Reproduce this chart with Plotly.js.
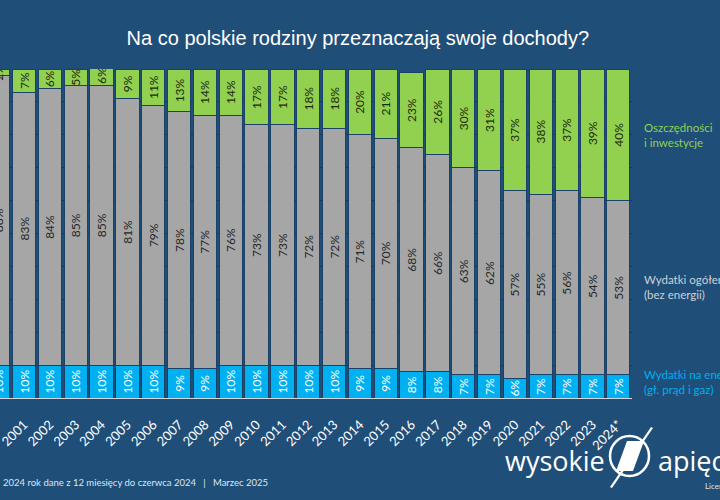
<!DOCTYPE html>
<html>
<head>
<meta charset="utf-8">
<script src="https://cdn.plot.ly/plotly-3.0.1.min.js"></script>
<style>
  html, body { margin: 0; padding: 0; background: #1f4e79; }
  #chart { width: 720px; height: 500px; }
</style>
</head>
<body>
<div id="chart"></div>
<script>
// Share of household income, Poland, by year (percent)
const years = ['2000','2001','2002','2003','2004','2005','2006','2007','2008','2009',
               '2010','2011','2012','2013','2014','2015','2016','2017','2018','2019',
               '2020','2021','2022','2023','2024*'];
const energy  = [10,10,10,10,10,10,10, 9, 9,10,10,10,10,10, 9, 9, 8, 8, 7, 7, 6, 7, 7, 7, 7];
const general = [88,83,84,85,85,81,79,78,77,76,73,73,72,72,71,70,68,66,63,62,57,55,56,54,53];
const savings = [ 2, 7, 6, 5, 6, 9,11,13,14,14,17,17,18,18,20,21,23,26,30,31,37,38,37,39,40];

const seriesNames = ['Wydatki na energię', 'Wydatki ogółem', 'Oszczędności i inwestycje'];

const BG = '#1f4e79';
const C_ENERGY = '#00b0f0';
const C_GENERAL = '#a6a6a6';
const C_SAVINGS = '#92d050';

// plot area in pixels (for placing labels around it)
const PL = 0, PR = 632, PT = 69, PB = 398;
const px = x => (x - PL) / (PR - PL);
const py = y => (PB - y) / (PB - PT);

const pct = arr => arr.map(v => v + '%');

function barTrace(name, values, color, textColor) {
  return {
    type: 'bar',
    name: name,
    x: years,
    y: values,
    text: pct(values),
    textposition: 'inside',
    insidetextanchor: 'middle',
    textangle: -90,
    constraintext: 'none',
    textfont: { family: 'Lato, sans-serif', size: 12, color: textColor },
    marker: { color: color, line: { color: '#1a4269', width: 1 } },
    hoverinfo: 'skip'
  };
}

const data = [
  barTrace(seriesNames[0], energy, C_ENERGY, '#ffffff'),
  barTrace(seriesNames[1], general, C_GENERAL, '#262626'),
  barTrace(seriesNames[2], savings, C_SAVINGS, '#1e2a10')
];

// lightning bolt of the logo, pixel outline converted to paper units
function pathFrom(points) {
  return points.map((p, i) => (i ? 'L' : 'M') + px(p[0]).toFixed(4) + ',' + py(p[1]).toFixed(4)).join(' ') + ' Z';
}

const layout = {
  width: 720,
  height: 500,
  margin: { l: PL, r: 720 - PR, t: PT, b: 500 - PB },
  paper_bgcolor: BG,
  plot_bgcolor: BG,
  barmode: 'stack',
  bargap: 0.1,
  showlegend: false,
  title: {
    text: 'Na co polskie rodziny przeznaczają swoje dochody?',
    font: { family: 'Liberation Sans, Arial, sans-serif', size: 20, color: '#ffffff' },
    x: 0.497, xref: 'container', xanchor: 'center',
    y: 1 - 38 / 500, yref: 'container', yanchor: 'middle'
  },
  xaxis: {
    type: 'category',
    range: [0.07, 24.53],
    tickangle: -45,
    tickfont: { family: 'Lato, sans-serif', size: 13, color: '#ffffff' },
    ticklabelstandoff: 13,
    showline: true,
    linecolor: '#d0d8e2',
    linewidth: 1,
    ticks: '',
    showgrid: false,
    fixedrange: true
  },
  yaxis: {
    range: [0, 100],
    dtick: 10,
    showgrid: true,
    gridcolor: '#163a5e',
    gridwidth: 1,
    showticklabels: false,
    zeroline: false,
    fixedrange: true
  },
  annotations: [
    { text: 'Oszczędności<br>i inwestycje', x: px(642), y: py(135), xref: 'paper', yref: 'paper',
      xanchor: 'left', yanchor: 'middle', align: 'left', showarrow: false,
      font: { family: 'Lato, sans-serif', size: 11.5, color: C_SAVINGS } },
    { text: 'Wydatki ogółem<br>(bez energii)', x: px(642), y: py(287), xref: 'paper', yref: 'paper',
      xanchor: 'left', yanchor: 'middle', align: 'left', showarrow: false,
      font: { family: 'Lato, sans-serif', size: 11.5, color: '#cdd1d6' } },
    { text: 'Wydatki na energię<br>(gł. prąd i gaz)', x: px(642), y: py(382), xref: 'paper', yref: 'paper',
      xanchor: 'left', yanchor: 'middle', align: 'left', showarrow: false,
      font: { family: 'Lato, sans-serif', size: 11.5, color: C_ENERGY } },
    { text: '2024 rok dane z 12 miesięcy do czerwca 2024   |   Marzec 2025', x: px(1), y: py(482),
      xref: 'paper', yref: 'paper', xanchor: 'left', yanchor: 'middle', showarrow: false,
      font: { family: 'Lato, sans-serif', size: 9.5, color: '#dce6f0' } },
    { text: 'wysokie', x: px(607), y: py(460), xref: 'paper', yref: 'paper',
      xanchor: 'right', yanchor: 'middle', showarrow: false,
      font: { family: 'Open Sans, sans-serif', size: 27, color: '#ffffff' } },
    { text: 'apięcie', x: px(656), y: py(460), xref: 'paper', yref: 'paper',
      xanchor: 'left', yanchor: 'middle', showarrow: false,
      font: { family: 'Open Sans, sans-serif', size: 27, color: '#ffffff' } },
    { text: 'Licencja CC BY-SA', x: px(703), y: py(486), xref: 'paper', yref: 'paper',
      xanchor: 'left', yanchor: 'middle', showarrow: false,
      font: { family: 'Lato, sans-serif', size: 8, color: '#dce6f0' } }
  ],
  shapes: [
    { type: 'circle', xref: 'paper', yref: 'paper',
      x0: px(610), x1: px(649), y0: py(476), y1: py(436),
      line: { color: '#ffffff', width: 2.5 }, fillcolor: 'rgba(0,0,0,0)' },
    { type: 'path', xref: 'paper', yref: 'paper',
      path: pathFrom([[627,441],[644,441],[633,471],[616,471]]),
      fillcolor: '#ffffff', line: { width: 0 } },
    { type: 'path', xref: 'paper', yref: 'paper',
      path: pathFrom([[651,427],[653,428],[612,488],[610,487]]),
      fillcolor: '#ffffff', line: { width: 0 } }
  ]
};

Plotly.newPlot('chart', data, layout, { staticPlot: true, displayModeBar: false });
</script>
</body>
</html>
